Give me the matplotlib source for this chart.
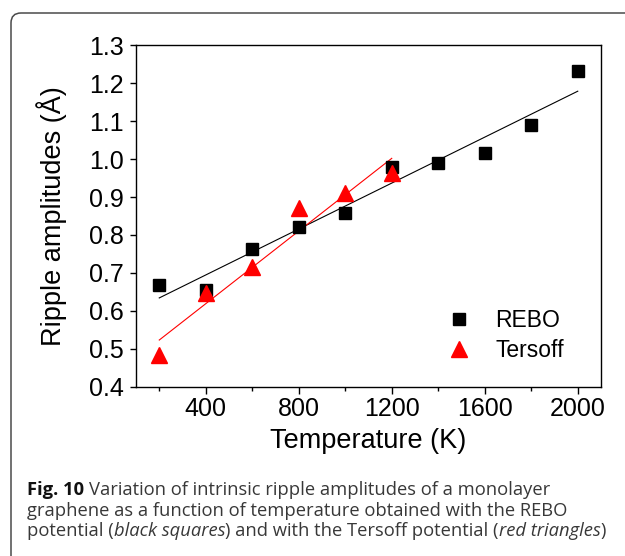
import numpy as np
import matplotlib
matplotlib.use("Agg")
import matplotlib.pyplot as plt
from matplotlib.patches import FancyBboxPatch
from matplotlib.transforms import IdentityTransform

# 数据
temp_rebo = [200, 400, 600, 800, 1000, 1200, 1400, 1600, 1800, 2000]
amp_rebo = [0.667, 0.655, 0.764, 0.822, 0.858, 0.980, 0.989, 1.015, 1.089, 1.231]
temp_tersoff = [200, 400, 600, 800, 1000, 1200]
amp_tersoff = [0.483, 0.646, 0.716, 0.872, 0.910, 0.964]
# 拟合直线端点
fit_rebo_x = [200, 2000]
fit_rebo_y = [0.634, 1.179]
fit_tersoff_x = [200, 1200]
fit_tersoff_y = [0.523, 1.002]

W, H = 625, 556
plt.rcParams["font.family"] = ["Liberation Sans", "DejaVu Sans"]
fig = plt.figure(figsize=(W / 100, H / 100), dpi=100)

# 外框（圆角）
frame = FancyBboxPatch((11, -20), 660, H - 13 + 20, boxstyle="round,pad=0,rounding_size=10",
                       transform=IdentityTransform(), facecolor="none",
                       edgecolor="#4a4a4a", linewidth=1.1)
fig.patches.append(frame)

ax = fig.add_axes([136 / W, 1 - 386.7 / H, (601 - 136) / W, (386.7 - 45.3) / H])

ax.plot(fit_rebo_x, fit_rebo_y, color="black", lw=0.8)
ax.plot(fit_tersoff_x, fit_tersoff_y, color="red", lw=0.8)
ax.plot(temp_rebo, amp_rebo, "s", color="black", ms=8, ls="none", label="REBO")
ax.plot(temp_tersoff, amp_tersoff, "^", color="red", ms=11, ls="none", label="Tersoff")

ax.set_xlim(100, 2100)
ax.set_ylim(0.4, 1.3)
ax.set_xticks(np.arange(400, 2001, 400))
ax.set_xticks(np.arange(200, 2001, 400), minor=True)
ax.set_yticks(np.arange(0.4, 1.31, 0.1))
ax.yaxis.set_major_formatter(matplotlib.ticker.FormatStrFormatter("%.1f"))
ax.tick_params(axis="x", which="major", direction="out", length=5.2, width=1, labelsize=18, pad=2)
ax.tick_params(axis="x", which="minor", direction="out", length=3, width=1)
ax.tick_params(axis="y", which="major", direction="out", length=4.3, width=1, labelsize=18, pad=4.5)
for s in ax.spines.values():
    s.set_linewidth(1)

ax.set_xlabel("Temperature (K)", fontsize=19.5, labelpad=5)
ax.set_ylabel("Ripple amplitudes (Å)", fontsize=19.5, labelpad=16)

ax.legend(loc="upper left", bbox_to_anchor=(436 / W, 1 - 309 / H), bbox_transform=fig.transFigure,
          frameon=False, fontsize=16.5, borderpad=0, borderaxespad=0,
          handletextpad=0.6, labelspacing=0.3, handlelength=2.0, numpoints=1)

# 图注
cap_x = 27 / W
cap_font = ["Open Sans", "DejaVu Sans"]
cap_size = 13.2
lines = ["Variation of intrinsic ripple amplitudes of a monolayer",
         "graphene as a function of temperature obtained with the REBO"]
bold = fig.text(cap_x, 1 - 495 / H, "Fig. 10", family=cap_font, fontsize=cap_size,
                weight="bold", color="#111111", va="baseline")
fig.canvas.draw()
r = fig.canvas.get_renderer()
bb = bold.get_window_extent(r)
fig.text((bb.x1 + 5) / W, 1 - 495 / H, lines[0], family=cap_font, fontsize=cap_size,
         color="#383838", va="baseline")
fig.text(cap_x, 1 - 515.5 / H, lines[1], family=cap_font, fontsize=cap_size,
         color="#383838", va="baseline")

# 第三行：正常与斜体混排
parts = [("potential (", "normal"), ("black squares", "italic"), (") and with the Tersoff potential (", "normal"),
         ("red triangles", "italic"), (")", "normal")]
x = 27
for txt, st in parts:
    t = fig.text(x / W, 1 - 536 / H, txt, family=cap_font, fontsize=cap_size,
                 style=st, color="#383838", va="baseline")
    fig.canvas.draw()
    x = t.get_window_extent(r).x1

fig.savefig("out.png", dpi=100)
